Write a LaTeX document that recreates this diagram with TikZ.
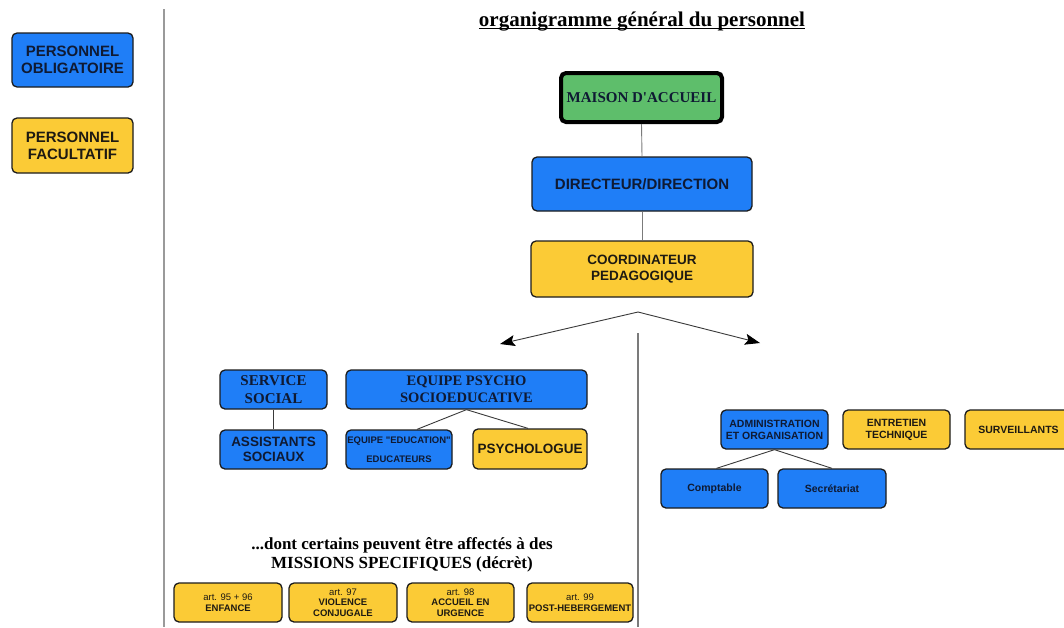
\documentclass[tikz,border=0pt]{standalone}
\usepackage{fontspec}
\setmainfont{Liberation Serif}
\newfontfamily\hv{Liberation Sans}
\newfontfamily\tm{Liberation Serif}
\usetikzlibrary{arrows.meta}
\definecolor{obblue}{HTML}{1F7EF7}
\definecolor{fyellow}{HTML}{FBCB36}
\definecolor{mgreen}{HTML}{5EBE6B}
\definecolor{navy}{HTML}{0F1A33}
\definecolor{darktxt}{HTML}{1E1A12}
\definecolor{bord}{HTML}{1C1C1C}
\definecolor{conn}{HTML}{3A3A3A}
\definecolor{sep}{HTML}{9A9A9A}
\tikzset{
  box/.style={draw=bord, line width=1.3pt, rounded corners=5pt, align=center, inner sep=0pt},
  oblig/.style={box, fill=obblue, text=navy},
  facul/.style={box, fill=fyellow, text=darktxt},
  sansA/.style={font=\hv\bfseries\fontsize{15}{17}\selectfont},
  sansB/.style={font=\hv\bfseries\fontsize{13.5}{15.5}\selectfont},
  sansC/.style={font=\hv\bfseries\fontsize{10.5}{12}\selectfont},
  sansD/.style={font=\hv\bfseries\fontsize{9.5}{10.5}\selectfont},
  serifA/.style={font=\tm\bfseries\fontsize{15}{17.5}\selectfont},
  link/.style={draw=conn, line width=0.9pt},
  divider/.style={draw=sep, line width=1.6pt},
  arr/.style={draw=conn, line width=0.9pt, -{Stealth[length=15pt,width=11pt,inset=3pt,color=black]}}
}
\begin{document}
\begin{tikzpicture}[x=1pt,y=-1pt]
\useasboundingbox[fill=white] (0,0) rectangle (1064,627);
% separators
\coordinate (sepTop) at (164,9);
\coordinate (sepBot) at (164,627);
\draw[divider] (sepTop) -- (sepBot);
% legend
\node[oblig, sansA, minimum width=121pt, minimum height=54pt] (leg1) at (72.5,60) {PERSONNEL\\OBLIGATOIRE};
\node[facul, sansA, minimum width=121pt, minimum height=55pt] (leg2) at (72.5,145.5) {PERSONNEL\\FACULTATIF};
% title
\node[font=\tm\bfseries\fontsize{21}{24}\selectfont, anchor=base, inner sep=0pt] (title) at (642,26) {organigramme général du personnel};
\draw[line width=1pt] ([yshift=-2pt]title.base west) -- ([yshift=-2pt]title.base east);
% top chain
\node[box, fill=mgreen, text=navy, draw=black, line width=4pt, font=\tm\bfseries\fontsize{15}{17}\selectfont, minimum width=161pt, minimum height=49pt] (maison) at (641.5,97.5) {MAISON D'ACCUEIL};
\node[oblig, sansA, minimum width=220pt, minimum height=54pt] (dir) at (642,184) {DIRECTEUR/DIRECTION};
\node[facul, sansB, minimum width=222pt, minimum height=56pt] (coord) at (642,269) {COORDINATEUR\\PEDAGOGIQUE};
\draw[draw=sep!80!black, line width=0.9pt] (maison.south) -- (dir.north);
\draw[draw=sep!80!black, line width=0.9pt] (dir.south) -- (coord.north);
% arrows
\coordinate (apex) at (638,312);
\coordinate (tipL) at (500,344);
\coordinate (tipR) at (760,343);
\draw[arr] (apex) -- (tipL);
\draw[arr] (apex) -- (tipR);
\coordinate (divTop) at (638,333);
\coordinate (divBot) at (638,627);
\draw[draw=sep!80!black, line width=1.2pt] (divTop) -- (divBot);
% left branch
\node[oblig, serifA, minimum width=107pt, minimum height=39pt] (service) at (273.5,389.5) {SERVICE\\SOCIAL};
\node[oblig, font=\tm\bfseries\fontsize{14.5}{17}\selectfont, minimum width=241pt, minimum height=39pt] (equipe) at (466.5,389.5) {EQUIPE PSYCHO\\SOCIOEDUCATIVE};
\node[oblig, sansB, minimum width=107pt, minimum height=39pt] (assist) at (273.5,449.5) {ASSISTANTS\\SOCIAUX};
\node[oblig, font=\hv\bfseries\fontsize{9.5}{11}\selectfont, minimum width=106pt, minimum height=39pt] (educ) at (399,449.5) {EQUIPE "EDUCATION"\\[8pt]EDUCATEURS};
\node[facul, sansB, minimum width=114pt, minimum height=40pt] (psy) at (530,449) {PSYCHOLOGUE};
\draw[link] (service.south) -- (assist.north);
\draw[link] (equipe.south) -- ([xshift=18pt]educ.north);
\draw[link] (equipe.south) -- ([xshift=-2pt]psy.north);
% right branch
\node[oblig, sansC, minimum width=107pt, minimum height=39pt] (admin) at (774.5,429.5) {ADMINISTRATION\\ET ORGANISATION};
\node[facul, sansC, minimum width=107pt, minimum height=39pt] (entre) at (896.5,429.5) {ENTRETIEN\\TECHNIQUE};
\node[facul, sansC, minimum width=107pt, minimum height=39pt] (surv) at (1018.5,429.5) {SURVEILLANTS};
\node[oblig, sansC, minimum width=107pt, minimum height=39pt] (compt) at (714.5,488.5) {Comptable};
\node[oblig, sansC, minimum width=108pt, minimum height=39pt] (secr) at (832,488.5) {Secrétariat};
\draw[link] (admin.south) -- ([xshift=2pt]compt.north);
\draw[link] (admin.south) -- (secr.north);
% missions
\node[font=\tm\bfseries\fontsize{17}{19}\selectfont, align=center, inner sep=0pt, anchor=base] (mtext) at (402,568) {...dont certains peuvent être affectés à des\\MISSIONS SPECIFIQUES (décrèt)};
\node[facul, sansD, minimum width=108pt, minimum height=39pt] (m1) at (228,602.5) {{\mdseries art. 95 + 96}\\ENFANCE};
\node[facul, sansD, minimum width=108pt, minimum height=39pt] (m2) at (343,602.5) {{\mdseries art. 97}\\VIOLENCE\\CONJUGALE};
\node[facul, sansD, minimum width=107pt, minimum height=39pt] (m3) at (460.5,602.5) {{\mdseries art. 98}\\ACCUEIL EN\\URGENCE};
\node[facul, sansD, minimum width=106pt, minimum height=39pt] (m4) at (580,602.5) {{\mdseries art. 99}\\POST-HEBERGEMENT};
\end{tikzpicture}
\end{document}
